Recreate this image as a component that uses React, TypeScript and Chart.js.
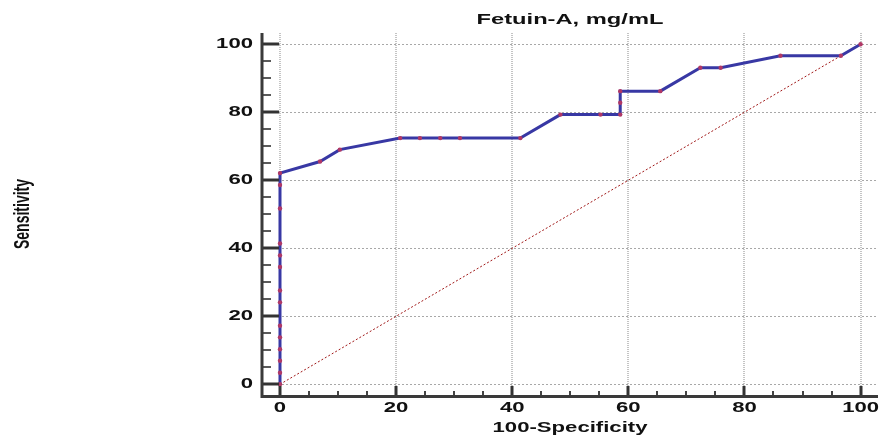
import React, { useEffect, useRef } from "react";
import { Chart, registerables } from "chart.js";

Chart.register(...registerables);

const TITLE = "Fetuin-A, mg/mL";
const X_TITLE = "100-Specificity";
const Y_TITLE = "Sensitivity";

// ROC curve: 100-Specificity (x) and Sensitivity (y), in percent
const rocX = [0, 0, 0, 0, 0, 0, 0, 0, 0, 0, 0, 0, 0, 0, 6.9, 10.3, 20.7, 24.1, 27.6, 31.0, 41.4, 48.3, 55.2, 58.6, 58.6, 58.6, 65.5, 72.4, 75.9, 86.2, 96.6, 100];
const rocY = [0, 3.4, 6.9, 10.3, 13.8, 17.2, 24.1, 27.6, 34.5, 37.9, 41.4, 51.7, 58.6, 62.1, 65.5, 69.0, 72.4, 72.4, 72.4, 72.4, 72.4, 79.3, 79.3, 79.3, 82.8, 86.2, 86.2, 93.1, 93.1, 96.6, 96.6, 100];

// Reference (chance) diagonal
const diagX = [0, 100];
const diagY = [0, 100];

const majorTicks = [0, 20, 40, 60, 80, 100];
const minorTicks = [5, 10, 15, 25, 30, 35, 45, 50, 55, 65, 70, 75, 85, 90, 95];
const tickLabels = ["0", "20", "40", "60", "80", "100"];

const SX = 1.58;
const FONT = '"Liberation Sans", Arial, sans-serif';

function stretchedText(ctx: CanvasRenderingContext2D, text: string, x: number, y: number, align: CanvasTextAlign, font: string, rotate = false) {
  ctx.save();
  ctx.translate(x, y);
  ctx.scale(SX, 1);
  if (rotate) ctx.rotate(-Math.PI / 2);
  ctx.font = font;
  ctx.fillStyle = "#111";
  ctx.textAlign = align;
  ctx.textBaseline = "middle";
  ctx.fillText(text, 0, 0);
  ctx.restore();
}

const decor = {
  id: "decor",
  beforeDatasetsDraw(chart: any) {
    const { ctx, chartArea: a, scales } = chart;
    const xs = scales.x, ys = scales.y;
    ctx.save();
    ctx.strokeStyle = "#a8a8a8";
    ctx.lineWidth = 1;
    ctx.setLineDash([2, 2]);
    for (const v of majorTicks) {
      const py = Math.round(ys.getPixelForValue(v)) + 0.5;
      ctx.beginPath();
      ctx.moveTo(a.left, py);
      ctx.lineTo(a.right, py);
      ctx.stroke();
    }
    ctx.strokeStyle = "#c4c4c4";
    ctx.lineWidth = 2;
    ctx.setLineDash([1, 1]);
    for (const v of majorTicks) {
      const px = Math.round(xs.getPixelForValue(v));
      ctx.beginPath();
      ctx.moveTo(px, a.top);
      ctx.lineTo(px, a.bottom);
      ctx.stroke();
    }
    ctx.restore();
  },
  afterDraw(chart: any) {
    const { ctx, chartArea: a, scales } = chart;
    const xs = scales.x, ys = scales.y;
    ctx.save();
    ctx.setLineDash([]);
    ctx.lineCap = "butt";
    const x0 = xs.getPixelForValue(0);
    for (const v of minorTicks) {
      const py = Math.round(ys.getPixelForValue(v));
      ctx.strokeStyle = "#5a5a5a";
      ctx.lineWidth = 2;
      ctx.beginPath();
      ctx.moveTo(a.left, py);
      ctx.lineTo(a.left + 9, py);
      ctx.stroke();
    }
    for (const v of majorTicks) {
      const py = Math.round(ys.getPixelForValue(v));
      ctx.strokeStyle = "#333";
      ctx.lineWidth = 3;
      ctx.beginPath();
      ctx.moveTo(a.left, py);
      ctx.lineTo(x0 - 1, py);
      ctx.stroke();
    }
    for (const v of minorTicks) {
      const px = Math.round(xs.getPixelForValue(v));
      ctx.strokeStyle = "#444";
      ctx.lineWidth = 2;
      ctx.beginPath();
      ctx.moveTo(px, a.bottom);
      ctx.lineTo(px, a.bottom - 4);
      ctx.stroke();
    }
    for (const v of majorTicks) {
      const px = Math.round(xs.getPixelForValue(v));
      ctx.strokeStyle = "#333";
      ctx.lineWidth = 3;
      ctx.beginPath();
      ctx.moveTo(px, a.bottom);
      ctx.lineTo(px, a.bottom - 9);
      ctx.stroke();
    }
    ctx.strokeStyle = "#3a3a3a";
    ctx.lineWidth = 3;
    ctx.beginPath();
    ctx.moveTo(a.left, a.top);
    ctx.lineTo(a.left, a.bottom + 1.5);
    ctx.lineTo(a.right, a.bottom + 1.5);
    ctx.stroke();
    const tf = `bold 14px ${FONT}`;
    majorTicks.forEach((v, i) => {
      stretchedText(ctx, tickLabels[i], a.left - 9, ys.getPixelForValue(v), "right", tf);
      stretchedText(ctx, tickLabels[i], xs.getPixelForValue(v), a.bottom + 13, "center", tf);
    });
    const cx = (a.left + a.right) / 2;
    stretchedText(ctx, TITLE, cx, 20, "center", `bold 15px ${FONT}`);
    stretchedText(ctx, X_TITLE, cx, 428, "center", tf);
    stretchedText(ctx, Y_TITLE, 23, (a.top + a.bottom) / 2, "center", tf, true);
    ctx.restore();
  },
};

export default function App() {
  const ref = useRef<HTMLCanvasElement | null>(null);
  useEffect(() => {
    if (!ref.current) return;
    const chart = new Chart(ref.current, {
      type: "scatter",
      data: {
        datasets: [
          {
            label: "ROC",
            data: rocX.map((x, i) => ({ x, y: rocY[i] })),
            showLine: true,
            borderColor: "#3838a4",
            borderWidth: 3,
            pointRadius: 2.2,
            pointBackgroundColor: "#b03866",
            pointBorderWidth: 0,
            pointStyle: "circle",
          },
          {
            label: "Diagonal",
            data: diagX.map((x, i) => ({ x, y: diagY[i] })),
            showLine: true,
            borderColor: "#a01818",
            borderWidth: 1,
            borderDash: [2, 2],
            pointRadius: 0,
          },
        ],
      },
      options: {
        animation: false,
        responsive: true,
        maintainAspectRatio: false,
        layout: { padding: { left: 262, top: 33, right: -2, bottom: 41 } },
        plugins: { legend: { display: false }, tooltip: { enabled: false }, title: { display: false } },
        scales: {
          x: { type: "linear", min: -3.1, max: 103, display: false },
          y: { type: "linear", min: -3.15, max: 103.3, display: false },
        },
      },
      plugins: [decor],
    });
    return () => chart.destroy();
  }, []);
  return (
    <div style={{ position: "fixed", left: 0, top: 0, width: 882, height: 436, background: "#fff" }}>
      <canvas ref={ref} />
    </div>
  );
}
